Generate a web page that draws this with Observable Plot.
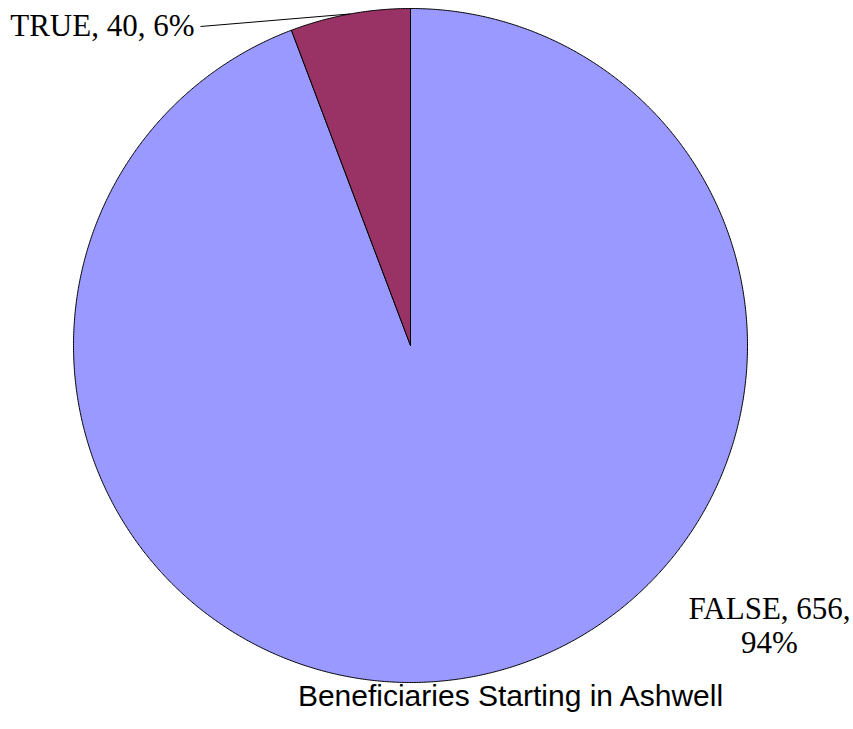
<!DOCTYPE html>
<html>
<head>
<meta charset="utf-8">
<script src="https://cdn.jsdelivr.net/npm/d3@7"></script>
<script src="https://cdn.jsdelivr.net/npm/@observablehq/plot@0.6"></script>
<style>
  html, body { margin: 0; padding: 0; background: #fff; }
  #chart svg { display: block; }
</style>
</head>
<body>
<div id="chart"></div>
<script>
// ---- Data ----
const categories = ["FALSE", "TRUE"];
const counts = [656, 40];
const percents = ["94%", "6%"];
const colors = ["#9999FF", "#993366"];
const title = "Beneficiaries Starting in Ashwell";

// ---- Layout ----
const W = 853, H = 729;
const cx = 410, cy = 345, R = 337;

const pie = d3.pie().sort(null).value(d => d.count);
const rows = categories.map((c, i) => ({category: c, count: counts[i], pct: percents[i], color: colors[i]}));
const arcs = pie(rows);

// polygon points on a unit circle (angle clockwise from top)
const pts = [];
arcs.forEach(a => {
  const cat = a.data.category;
  pts.push({cat, x: 0, y: 0});
  const n = Math.max(4, Math.ceil((a.endAngle - a.startAngle) / 0.005));
  for (let k = 0; k <= n; k++) {
    const t = a.startAngle + (a.endAngle - a.startAngle) * k / n;
    pts.push({cat, x: Math.sin(t), y: Math.cos(t)});
  }
  pts.push({cat, x: 0, y: 0});
});

const trueArc = arcs[1];
const midT = (trueArc.startAngle + trueArc.endAngle) / 2;
const trueLabel = `${trueArc.data.category}, ${trueArc.data.count}, ${trueArc.data.pct}`;
const falseArc = arcs[0];
const falseLabel = `${falseArc.data.category}, ${falseArc.data.count},\n${falseArc.data.pct}`;

const leader = [{x1: Math.sin(midT), y1: Math.cos(midT), x2: (200 - cx) / R, y2: (cy - 26) / R}];

const serif = "Liberation Serif, Times New Roman, serif";
const chart = Plot.plot({
  width: W,
  height: H,
  margin: 0,
  x: {domain: [-cx / R, (W - cx) / R], range: [0, W], axis: null},
  y: {domain: [-(H - cy) / R, cy / R], range: [H, 0], axis: null},
  color: {domain: categories, range: colors},
  marks: [
    Plot.line(pts, {x: "x", y: "y", z: "cat", fill: "cat", stroke: "black", strokeWidth: 1, curve: "linear"}),
    Plot.link(leader, {x1: "x1", y1: "y1", x2: "x2", y2: "y2", stroke: "black", strokeWidth: 1}),
    Plot.text([trueLabel], {x: () => (194 - cx) / R, y: () => (cy - 26) / R, text: d => d, textAnchor: "end",
      fontFamily: serif, fontSize: 31, fill: "black"}),
    Plot.text([falseLabel], {x: () => (769 - cx) / R, y: () => (cy - 625) / R, text: d => d, textAnchor: "middle",
      lineHeight: 1.1, fontFamily: serif, fontSize: 31, fill: "black"}),
    Plot.text([title], {x: () => (510 - cx) / R, y: () => (cy - 696) / R, text: d => d, textAnchor: "middle",
      fontFamily: "Liberation Sans, Arial, sans-serif", fontSize: 30, fill: "black"})
  ]
});
document.getElementById("chart").appendChild(chart);
</script>
</body>
</html>
